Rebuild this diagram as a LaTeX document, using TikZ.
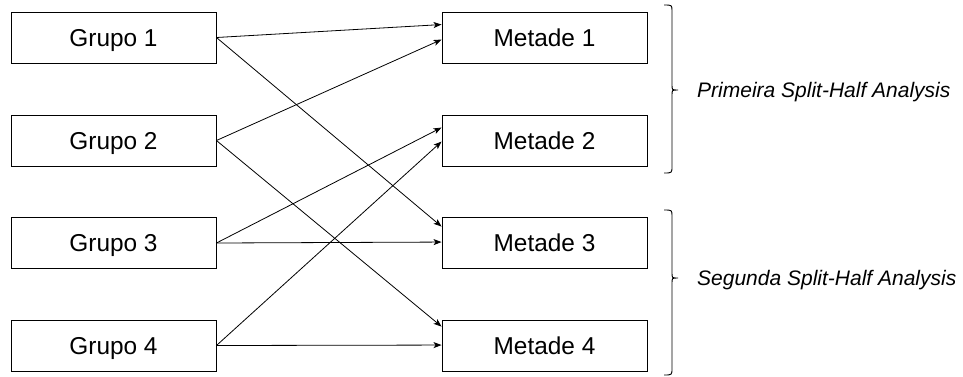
\documentclass[tikz,border=0pt]{standalone}
\usepackage{fontspec}
\setmainfont{Liberation Sans}
\usetikzlibrary{arrows.meta,calc}
\begin{document}
\begin{tikzpicture}[x=1pt,y=-1pt,
  box/.style={draw, line width=0.9pt, minimum width=205pt, minimum height=51pt,
    inner sep=0pt, text height=17.5pt, text depth=0pt,
    font=\fontsize{24.4}{28}\selectfont},
  link/.style={line width=0.8pt, -{Stealth[length=8pt,width=6pt,inset=2pt]}},
  grp/.style={draw, line width=0.9pt},
  tag/.style={anchor=west, inner sep=0pt, text height=15pt, text depth=0pt,
    font=\fontsize{21}{25}\selectfont\itshape}]
\useasboundingbox (0,0) rectangle (963,376);

% groups
\node[box] (g1) at (113.5,37.5)  {Grupo 1};
\node[box] (g2) at (113.5,140.5) {Grupo 2};
\node[box] (g3) at (113.5,243)   {Grupo 3};
\node[box] (g4) at (113.5,345.5) {Grupo 4};

% halves
\node[box] (m1) at (544.5,37.5)  {Metade 1};
\node[box] (m2) at (544.5,140.5) {Metade 2};
\node[box] (m3) at (544.5,242.5) {Metade 3};
\node[box] (m4) at (544.5,345.5) {Metade 4};

% entry points on the halves
\coordinate (m1a) at ($(m1.north west)+(0,13)$);
\coordinate (m1b) at ($(m1.north west)+(0,28)$);
\coordinate (m2a) at ($(m2.north west)+(0,13)$);
\coordinate (m2b) at ($(m2.north west)+(0,27)$);
\coordinate (m3a) at ($(m3.north west)+(0,10)$);
\coordinate (m3b) at ($(m3.north west)+(0,25.5)$);
\coordinate (m4a) at ($(m4.north west)+(0,7)$);
\coordinate (m4b) at ($(m4.north west)+(0,25.5)$);

\draw[link] (g1.east) -- (m1a);
\draw[link] (g1.east) -- (m3a);
\draw[link] (g2.east) -- (m1b);
\draw[link] (g2.east) -- (m4a);
\draw[link] (g3.east) -- (m2a);
\draw[link] (g3.east) -- (m3b);
\draw[link] (g4.east) -- (m2b);
\draw[link] (g4.east) -- (m4b);

% split-half braces: small hooks at the ends, a point at the middle
\draw[grp] (664,5) .. controls (672,5) .. (672,11) -- (672,85)
  .. controls (672,90) .. (678,90) .. controls (672,90) .. (672,95)
  -- (672,166) .. controls (672,173) .. (664,173);
\draw[grp] (664,210) .. controls (672,210) .. (672,216) -- (672,273)
  .. controls (672,278) .. (678,278) .. controls (672,278) .. (672,283)
  -- (672,368) .. controls (672,375) .. (664,375);

\node[tag] (t1) at (697,90)  {Primeira Split-Half Analysis};
\node[tag] (t2) at (697,278) {Segunda Split-Half Analysis};
\end{tikzpicture}
\end{document}
